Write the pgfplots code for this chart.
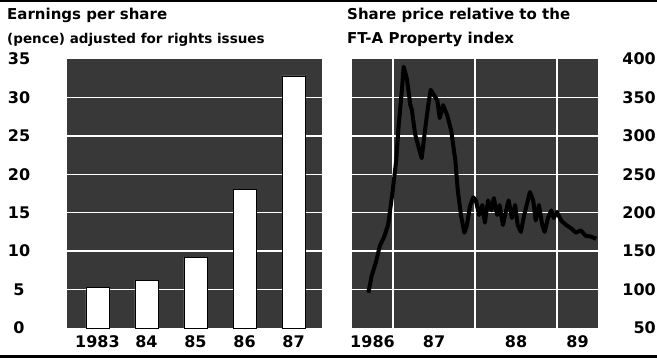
\documentclass[border=0pt]{standalone}
\usepackage{pgfplots}
\pgfplotsset{compat=1.18}
\usepackage{fontspec}
\setmainfont{DejaVu Sans}
\definecolor{halftone}{gray}{0.22}
\pgfplotsset{
  panel/.style={
    scale only axis,
    height=269pt,
    axis background/.style={fill=halftone},
    axis line style={draw=none},
    major tick length=0pt,
    minor tick length=0pt,
    ymajorgrids,
    major grid style={white, line width=1.5pt},
    /pgf/number format/assume math mode=true,
    ticklabel style={font=\fontsize{16}{16}\selectfont\bfseries, inner sep=0pt},
    extra y tick style={grid=none},
    clip=true,
  }
}
\begin{document}
\begin{tikzpicture}[x=1pt,y=1pt]
\useasboundingbox (0,0) rectangle (657,360);
\clip (0,0) rectangle (657,360);
\fill[black] (0,358) rectangle (657,360);
\fill[black] (0,2) rectangle (657,5);

\node[anchor=base west, inner sep=0pt, font=\fontsize{15}{16}\selectfont\bfseries] at (7,341) {Earnings per share};
\node[anchor=base west, inner sep=0pt, font=\fontsize{13.5}{14}\selectfont\bfseries] at (7,317) {(pence) adjusted for rights issues};
\node[anchor=base west, inner sep=0pt, font=\fontsize{15}{16}\selectfont\bfseries] at (347,341) {Share price relative to the};
\node[anchor=base west, inner sep=0pt, font=\fontsize{15}{16}\selectfont\bfseries] at (347,317) {FT-A Property index};

% Left panel: earnings per share
\begin{axis}[panel,
  at={(67pt,32pt)}, anchor=south west,
  width=255pt,
  xmin=1982.38, xmax=1987.58,
  ymin=0, ymax=35,
  ytick={5,10,15,20,25,30},
  extra y ticks={0,35},
  yticklabel style={anchor=center, xshift=-48pt},
  xtick={1983,1984,1985,1986,1987},
  xticklabels={1983,84,85,86,87},
  xticklabel style={anchor=center, yshift=-14pt},
]
\addplot[ybar, bar width=23pt, fill=white, draw=black, line width=0.6pt] coordinates {
  (1983,5.3) (1984,6.2) (1985,9.2) (1986,18.0) (1987,32.8)
};
\end{axis}

% Right panel: share price relative
\begin{axis}[panel,
  at={(352pt,32pt)}, anchor=south west,
  width=246pt,
  xmin=1986.5, xmax=1989.5,
  ymin=50, ymax=400,
  ytick={100,150,200,250,300,350},
  extra y ticks={50,400},
  yticklabel pos=right,
  yticklabel style={anchor=east, xshift=58pt},
  xtick={1987,1988,1989},
  xticklabels={},
  xmajorgrids,
  extra x ticks={1986.75,1987.5,1988.5,1989.25},
  extra x tick labels={1986,87,88,89},
  extra x tick style={grid=none, xticklabel style={anchor=center, yshift=-14pt}},
]
\addplot[black, line width=4pt, line join=round, mark=none] coordinates {
  (1986.70,96) (1986.74,118) (1986.79,135) (1986.84,157) (1986.89,168)
  (1986.94,184) (1986.99,223) (1987.04,269) (1987.07,315) (1987.11,361)
  (1987.13,390) (1987.17,374) (1987.21,341) (1987.23,334) (1987.27,302)
  (1987.32,282) (1987.35,271) (1987.39,307) (1987.43,340) (1987.46,360)
  (1987.50,353) (1987.54,346) (1987.57,323) (1987.61,340) (1987.66,327)
  (1987.71,307) (1987.76,268) (1987.79,229) (1987.83,196) (1987.87,174)
  (1987.90,183) (1987.94,209) (1987.98,220) (1988.01,216) (1988.05,197)
  (1988.09,210) (1988.12,187) (1988.16,216) (1988.20,203) (1988.23,219)
  (1988.27,197) (1988.30,210) (1988.34,184) (1988.38,203) (1988.41,216)
  (1988.45,193) (1988.49,210) (1988.52,184) (1988.56,175) (1988.60,197)
  (1988.63,210) (1988.67,227) (1988.71,216) (1988.74,190) (1988.78,210)
  (1988.82,184) (1988.85,175) (1988.89,193) (1988.93,203) (1988.96,193)
  (1989.00,201) (1989.05,190) (1989.11,184) (1989.17,180) (1989.23,174)
  (1989.29,177) (1989.35,170) (1989.41,169) (1989.48,166)
};
\end{axis}
\end{tikzpicture}
\end{document}
